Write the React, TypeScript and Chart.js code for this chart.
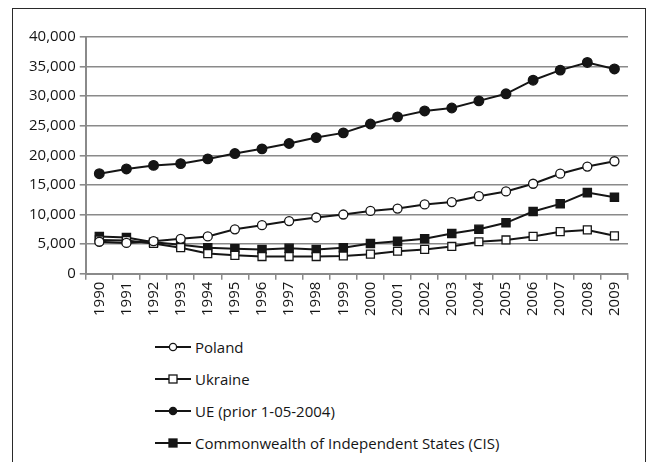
import React, { useEffect, useRef } from "react";
import { Chart, registerables } from "chart.js";

Chart.register(...registerables);

const years = ["1990", "1991", "1992", "1993", "1994", "1995", "1996", "1997", "1998", "1999", "2000", "2001", "2002", "2003", "2004", "2005", "2006", "2007", "2008", "2009"];
const poland = [5400, 5200, 5500, 5900, 6300, 7500, 8200, 8900, 9500, 10000, 10600, 11000, 11700, 12100, 13100, 13900, 15200, 16900, 18100, 19000];
const ukraine = [5700, 5600, 5100, 4400, 3400, 3100, 2900, 2900, 2900, 3000, 3300, 3800, 4100, 4600, 5400, 5700, 6300, 7100, 7400, 6400];
const ue = [16900, 17700, 18300, 18600, 19400, 20300, 21100, 22000, 23000, 23800, 25300, 26500, 27500, 28000, 29200, 30400, 32700, 34400, 35700, 34600];
const cis = [6300, 6100, 5300, 4900, 4400, 4200, 4100, 4300, 4100, 4400, 5100, 5500, 5900, 6800, 7500, 8600, 10500, 11800, 13700, 12900];
const seriesNames = ["Poland", "Ukraine", "UE (prior 1-05-2004)", "Commonwealth of Independent States (CIS)"];

const FONT = "'Open Sans', sans-serif";
const INK = "#151515";
const GRID = "#8a8a8a";

type Marker = { style: "circle" | "rect"; fill: string; r: number };
const markers: Marker[] = [
  { style: "circle", fill: "#ffffff", r: 4.5 },
  { style: "rect", fill: "#ffffff", r: 5.6 },
  { style: "circle", fill: INK, r: 4.8 },
  { style: "rect", fill: INK, r: 5.8 },
];

function LegendIcon({ m }: { m: Marker }) {
  return (
    <svg width={38} height={14} style={{ display: "block" }}>
      <line x1={0} y1={7} x2={36} y2={7} stroke={INK} strokeWidth={2} />
      {m.style === "circle" ? (
        <circle cx={18} cy={7} r={3.6} fill={m.fill} stroke={INK} strokeWidth={1.3} />
      ) : (
        <rect x={14} y={3} width={8} height={8} fill={m.fill} stroke={INK} strokeWidth={1.3} />
      )}
    </svg>
  );
}

export default function App() {
  const ref = useRef<HTMLCanvasElement>(null);

  useEffect(() => {
    const values = [poland, ukraine, ue, cis];
    const chart = new Chart(ref.current!, {
      type: "line",
      data: {
        labels: years,
        datasets: values.map((d, i) => ({
          label: seriesNames[i],
          data: d,
          borderColor: INK,
          borderWidth: 2,
          pointStyle: markers[i].style,
          pointRadius: markers[i].r,
          pointBackgroundColor: markers[i].fill,
          pointBorderColor: INK,
          pointBorderWidth: 1.3,
          tension: 0,
        })),
      },
      options: {
        responsive: false,
        animation: false,
        layout: { padding: { top: 28, right: 17, left: 12, bottom: 2 } },
        plugins: { legend: { display: false }, tooltip: { enabled: false } },
        scales: {
          x: {
            offset: true,
            grid: { display: true, drawOnChartArea: false, offset: true, color: GRID, lineWidth: 1.5, tickLength: 6 },
            border: { display: true, color: GRID, width: 2 },
            ticks: { minRotation: 90, maxRotation: 90, color: INK, font: { family: FONT, size: 15 }, padding: 2 },
          },
          y: {
            min: 0,
            max: 40000,
            ticks: {
              stepSize: 5000,
              color: INK,
              font: { family: FONT, size: 15 },
              padding: 4,
              callback: (v: any) => Number(v).toLocaleString("en-US"),
            },
            grid: { color: GRID, lineWidth: 1.6, tickLength: 6 },
            border: { display: true, color: GRID, width: 2 },
          },
        },
      },
    });
    return () => chart.destroy();
  }, []);

  const legendTops = [347, 379, 411, 443];

  return (
    <div style={{ position: "absolute", left: 0, top: 0, width: 648, height: 462, overflow: "hidden", background: "#fff" }}>
      <div style={{ position: "absolute", left: 12, top: 8, width: 632, height: 470, border: "1.5px solid #2a2a2a" }} />
      <canvas ref={ref} width={632} height={311} style={{ position: "absolute", left: 13, top: 9 }} />
      {seriesNames.map((name, i) => (
        <div
          key={name}
          style={{
            position: "absolute",
            left: 155,
            top: legendTops[i] - 10,
            height: 20,
            display: "flex",
            alignItems: "center",
            fontFamily: FONT,
            fontSize: 15,
            color: INK,
            whiteSpace: "nowrap",
          }}
        >
          <LegendIcon m={markers[i]} />
          <span style={{ marginLeft: 2 }}>{name}</span>
        </div>
      ))}
    </div>
  );
}
